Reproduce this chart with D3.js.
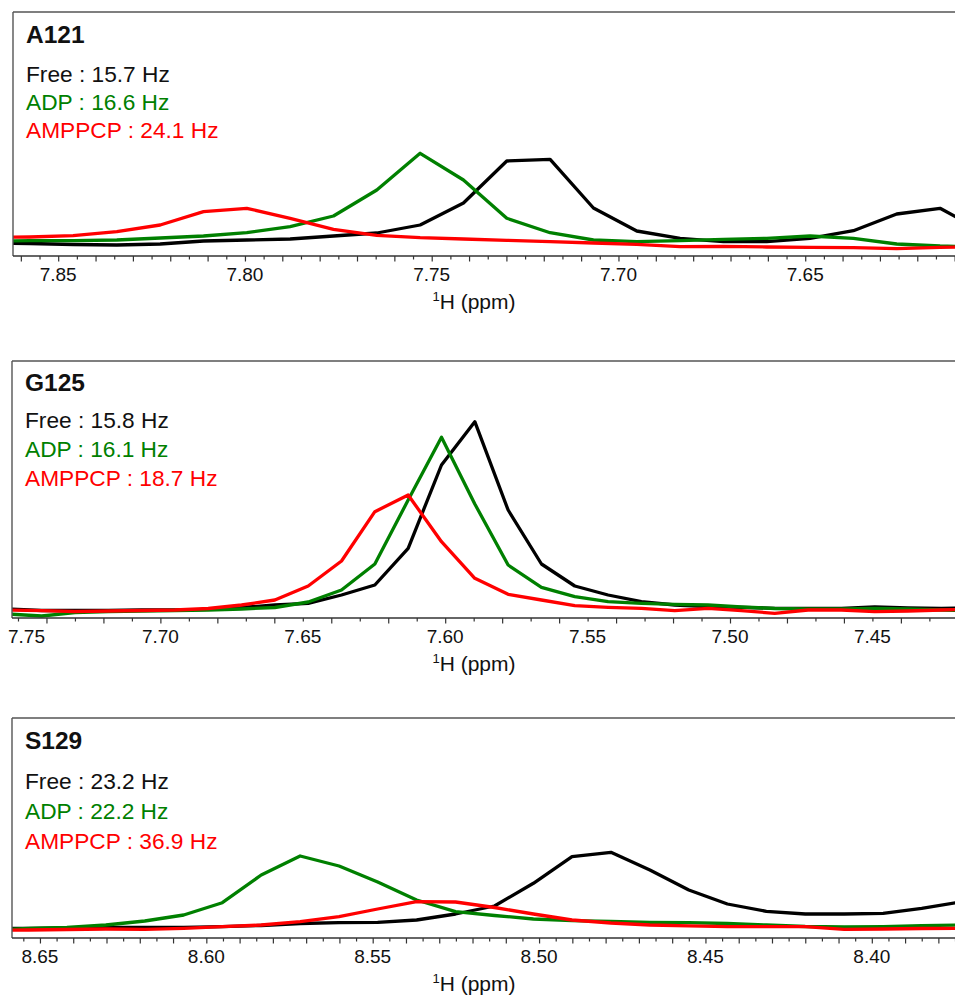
<!DOCTYPE html>
<html>
<head>
<meta charset="utf-8">
<script src="https://cdn.jsdelivr.net/npm/d3@7/dist/d3.min.js"></script>
<style>
  html, body { margin: 0; padding: 0; background: #ffffff; }
  svg { display: block; }
  text { font-family: "Liberation Sans", Arial, Helvetica, sans-serif; }
</style>
</head>
<body>
<svg id="chart" width="955" height="996"></svg>
<script>
// ---------------- DATA ----------------
const residues = ["A121", "G125", "S129"];
const states = ["Free", "ADP", "AMPPCP"];
const stateColors = ["#000000", "#008000", "#ff0000"];

// line widths (Hz) shown in each panel legend, order: Free, ADP, AMPPCP
const linewidthA121 = ["15.7", "16.6", "24.1"];
const linewidthG125 = ["15.8", "16.1", "18.7"];
const linewidthS129 = ["23.2", "22.2", "36.9"];

// tick labels (ppm)
const ticksA121 = [7.85, 7.80, 7.75, 7.70, 7.65];
const ticksG125 = [7.75, 7.70, 7.65, 7.60, 7.55, 7.50, 7.45];
const ticksS129 = [8.65, 8.60, 8.55, 8.50, 8.45, 8.40];

// ---- A121 : 1H chemical shift (ppm) and intensities (a.u.) ----
const ppmA121 = [7.8692, 7.8576, 7.8460, 7.8343, 7.8227, 7.8111, 7.7995, 7.7879, 7.7763, 7.7647,
                 7.7531, 7.7415, 7.7299, 7.7183, 7.7067, 7.6951, 7.6835, 7.6719, 7.6603, 7.6487,
                 7.6371, 7.6255, 7.6139, 7.6023];
const freeA121 = [13, 12.5, 11.5, 11, 12, 15, 16, 17, 20, 23,
                  31, 53, 95, 96.7, 48, 25, 17.7, 14.3, 14.3, 17.7,
                  25.3, 42, 47.7, 24];
const adpA121 = [15, 15.3, 15.3, 16, 18, 20, 23.3, 29.3, 40, 66,
                 102.7, 76, 37.7, 23.3, 16, 14.3, 15.3, 16.7, 17.7, 20,
                 17.7, 12, 10, 9];
const amppcpA121 = [18.5, 19, 20.3, 24.3, 31, 44.3, 47.7, 37.7, 26.7, 20.7,
                    18.3, 17, 15.7, 14.3, 13, 11.7, 9.3, 9.7, 9, 8.7,
                    8.3, 7.3, 8.7, 9];

// ---- G125 ----
const ppmG125 = [7.7535, 7.7417, 7.7300, 7.7183, 7.7066, 7.6949, 7.6832, 7.6715, 7.6598, 7.6481,
                 7.6364, 7.6247, 7.6130, 7.6013, 7.5896, 7.5779, 7.5662, 7.5545, 7.5428, 7.5311,
                 7.5194, 7.5077, 7.4960, 7.4843, 7.4726, 7.4609, 7.4492, 7.4375, 7.4258, 7.4141];
const freeG125 = [9, 7.5, 7.5, 7.7, 8, 8.2, 8.7, 10.5, 13, 14.7,
                  23, 33, 69.7, 153, 196.3, 108, 54, 32, 23, 16.3,
                  13, 11.3, 10.7, 9.7, 9.7, 9.7, 11, 10, 9.7, 10];
const adpG125 = [4, 2, 5.3, 6.5, 7, 7.5, 8, 9, 10.5, 16,
                 28, 54, 118, 180.7, 114, 53, 30.7, 21.3, 16.3, 14.7,
                 13.7, 13, 11, 9.5, 9, 9, 9.5, 9, 8, 7];
const amppcpG125 = [8, 7.3, 6.5, 7, 7.5, 8, 9.5, 13, 18, 32,
                    57, 106.3, 123, 76.3, 39.7, 23.7, 18, 12.3, 10.7, 9.7,
                    7.3, 9.7, 7.3, 4.7, 8, 8, 6.3, 7, 8, 9];

// ---- S129 ----
const ppmS129 = [8.6652, 8.6535, 8.6419, 8.6302, 8.6185, 8.6068, 8.5952, 8.5835, 8.5718, 8.5601,
                 8.5485, 8.5368, 8.5251, 8.5134, 8.5017, 8.4901, 8.4784, 8.4667, 8.4550, 8.4434,
                 8.4317, 8.4200, 8.4083, 8.3966, 8.3850, 8.3733];
const freeS129 = [9.5, 9.5, 10, 10.5, 10.7, 10.7, 11.3, 12.5, 14.5, 15.3,
                  15.7, 18, 24, 32, 54.7, 81.3, 85.7, 68, 48, 34,
                  26.7, 24, 24, 24.7, 29.7, 36];
const adpS129 = [8, 9.5, 10.5, 13, 17, 23, 35.3, 63, 82, 72,
                 56, 38, 26.3, 22.5, 19, 17.3, 16.5, 15.7, 15.3, 14.5,
                 13, 11.5, 11, 11.3, 12.3, 13];
const amppcpS129 = [7.5, 8, 8.5, 9, 8.7, 9.7, 11.3, 13, 16.3, 21.3,
                    29, 36.3, 36, 30.5, 24, 18, 15, 13, 12.2, 11.3,
                    11.3, 11.3, 8.7, 9, 9.5, 9.7];

// --------------- LAYOUT (not data) ---------------
const W = 955;
const panelDefs = [
  { name: residues[0], widths: linewidthA121, ticks: ticksA121, ppm: ppmA121,
    series: [freeA121, adpA121, amppcpA121],
    left: 13, top: 12, axisY: 256, domain: [7.8621, 7.6099], ymax: 244, minorStep: 0.005, longEvery: 0.01,
    titleDy: 31, legDy: 70, legStep: 28.2 },
  { name: residues[1], widths: linewidthG125, ticks: ticksG125, ppm: ppmG125,
    series: [freeG125, adpG125, amppcpG125],
    left: 12, top: 361, axisY: 618, domain: [7.7521, 7.4210], ymax: 257, minorStep: 0.01, longEvery: 0.02,
    titleDy: 30, legDy: 67, legStep: 29 },
  { name: residues[2], widths: linewidthS129, ticks: ticksS129, ppm: ppmS129,
    series: [freeS129, adpS129, amppcpS129],
    left: 12, top: 718, axisY: 938, domain: [8.6584, 8.3750], ymax: 220, minorStep: 0.005, longEvery: 0.01,
    titleDy: 31, legDy: 71, legStep: 30 }
];

const svg = d3.select("#chart");
svg.append("rect").attr("width", W).attr("height", 996).attr("fill", "#ffffff");

panelDefs.forEach((p, pi) => {
  const g = svg.append("g");
  const x = d3.scaleLinear().domain(p.domain).range([p.left, W]);
  const y = d3.scaleLinear().domain([0, p.ymax]).range([p.axisY, p.top]);

  // clip
  const clipId = "clip" + pi;
  svg.append("defs").append("clipPath").attr("id", clipId)
    .append("rect").attr("x", p.left).attr("y", p.top)
    .attr("width", W - p.left).attr("height", p.axisY - p.top);

  // spectra
  const line = d3.line().x(d => x(d[0])).y(d => y(d[1]));
  [0, 1, 2].forEach(si => {
    const pts = p.ppm.map((v, i) => [v, p.series[si][i]]);
    g.append("path")
      .attr("clip-path", `url(#${clipId})`)
      .attr("d", line(pts))
      .attr("fill", "none")
      .attr("stroke", stateColors[si])
      .attr("stroke-width", 3.3)
      .attr("stroke-linejoin", "round")
      .attr("stroke-linecap", "round");
  });

  // frame: top and left
  g.append("line").attr("x1", p.left).attr("x2", W).attr("y1", p.top).attr("y2", p.top)
    .attr("stroke", "#555").attr("stroke-width", 1.4);
  g.append("line").attr("x1", p.left).attr("x2", p.left).attr("y1", p.top).attr("y2", p.axisY)
    .attr("stroke", "#555").attr("stroke-width", 1.4);

  // bottom axis with minor ticks
  const lo = Math.min(p.domain[0], p.domain[1]), hi = Math.max(p.domain[0], p.domain[1]);
  const n0 = Math.ceil(lo / p.minorStep - 1e-6), n1 = Math.floor(hi / p.minorStep + 1e-6);
  const minorTicks = d3.range(n0, n1 + 1).map(k => +(k * p.minorStep).toFixed(4));
  const axis = d3.axisBottom(x).tickValues(minorTicks).tickSize(5).tickFormat("");
  const ax = g.append("g").attr("transform", `translate(0,${p.axisY})`).call(axis);
  ax.select(".domain").attr("stroke", "#333").attr("stroke-width", 1.5)
    .attr("d", `M${p.left},0H${W}`);
  ax.selectAll(".tick line")
    .attr("stroke", "#333").attr("stroke-width", 1.2)
    .attr("y2", d => {
      const r = d / p.longEvery;
      return Math.abs(r - Math.round(r)) < 1e-6 ? 5.5 : 3.5;
    });

  // tick labels
  p.ticks.forEach(t => {
    const txt = g.append("text")
      .attr("x", x(t)).attr("y", p.axisY + 25)
      .attr("text-anchor", "middle")
      .attr("font-size", 19).attr("fill", "#111")
      .text(t.toFixed(2));
    const bb = txt.node().getBBox();
    if (bb.x < 8) txt.attr("x", x(t) + (8 - bb.x));
    if (bb.x + bb.width > W) txt.attr("x", x(t) - (bb.x + bb.width - W));
  });

  // axis title
  const at = g.append("text")
    .attr("x", 474).attr("y", p.axisY + 53)
    .attr("text-anchor", "middle").attr("fill", "#111");
  at.append("tspan").attr("font-size", 13).attr("dy", -8).text("1");
  at.append("tspan").attr("font-size", 21).attr("dy", 8).text("H (ppm)");

  // residue title
  g.append("text")
    .attr("x", p.left + 13).attr("y", p.top + p.titleDy)
    .attr("font-size", 24.5).attr("font-weight", "bold").attr("fill", "#111")
    .text(p.name);

  // legend
  states.forEach((s, si) => {
    g.append("text")
      .attr("x", p.left + 13).attr("y", p.top + p.legDy + si * p.legStep)
      .attr("font-size", 22.7).attr("fill", stateColors[si] === "#000000" ? "#111" : stateColors[si])
      .text(`${s} : ${p.widths[si]} Hz`);
  });
});
</script>
</body>
</html>
